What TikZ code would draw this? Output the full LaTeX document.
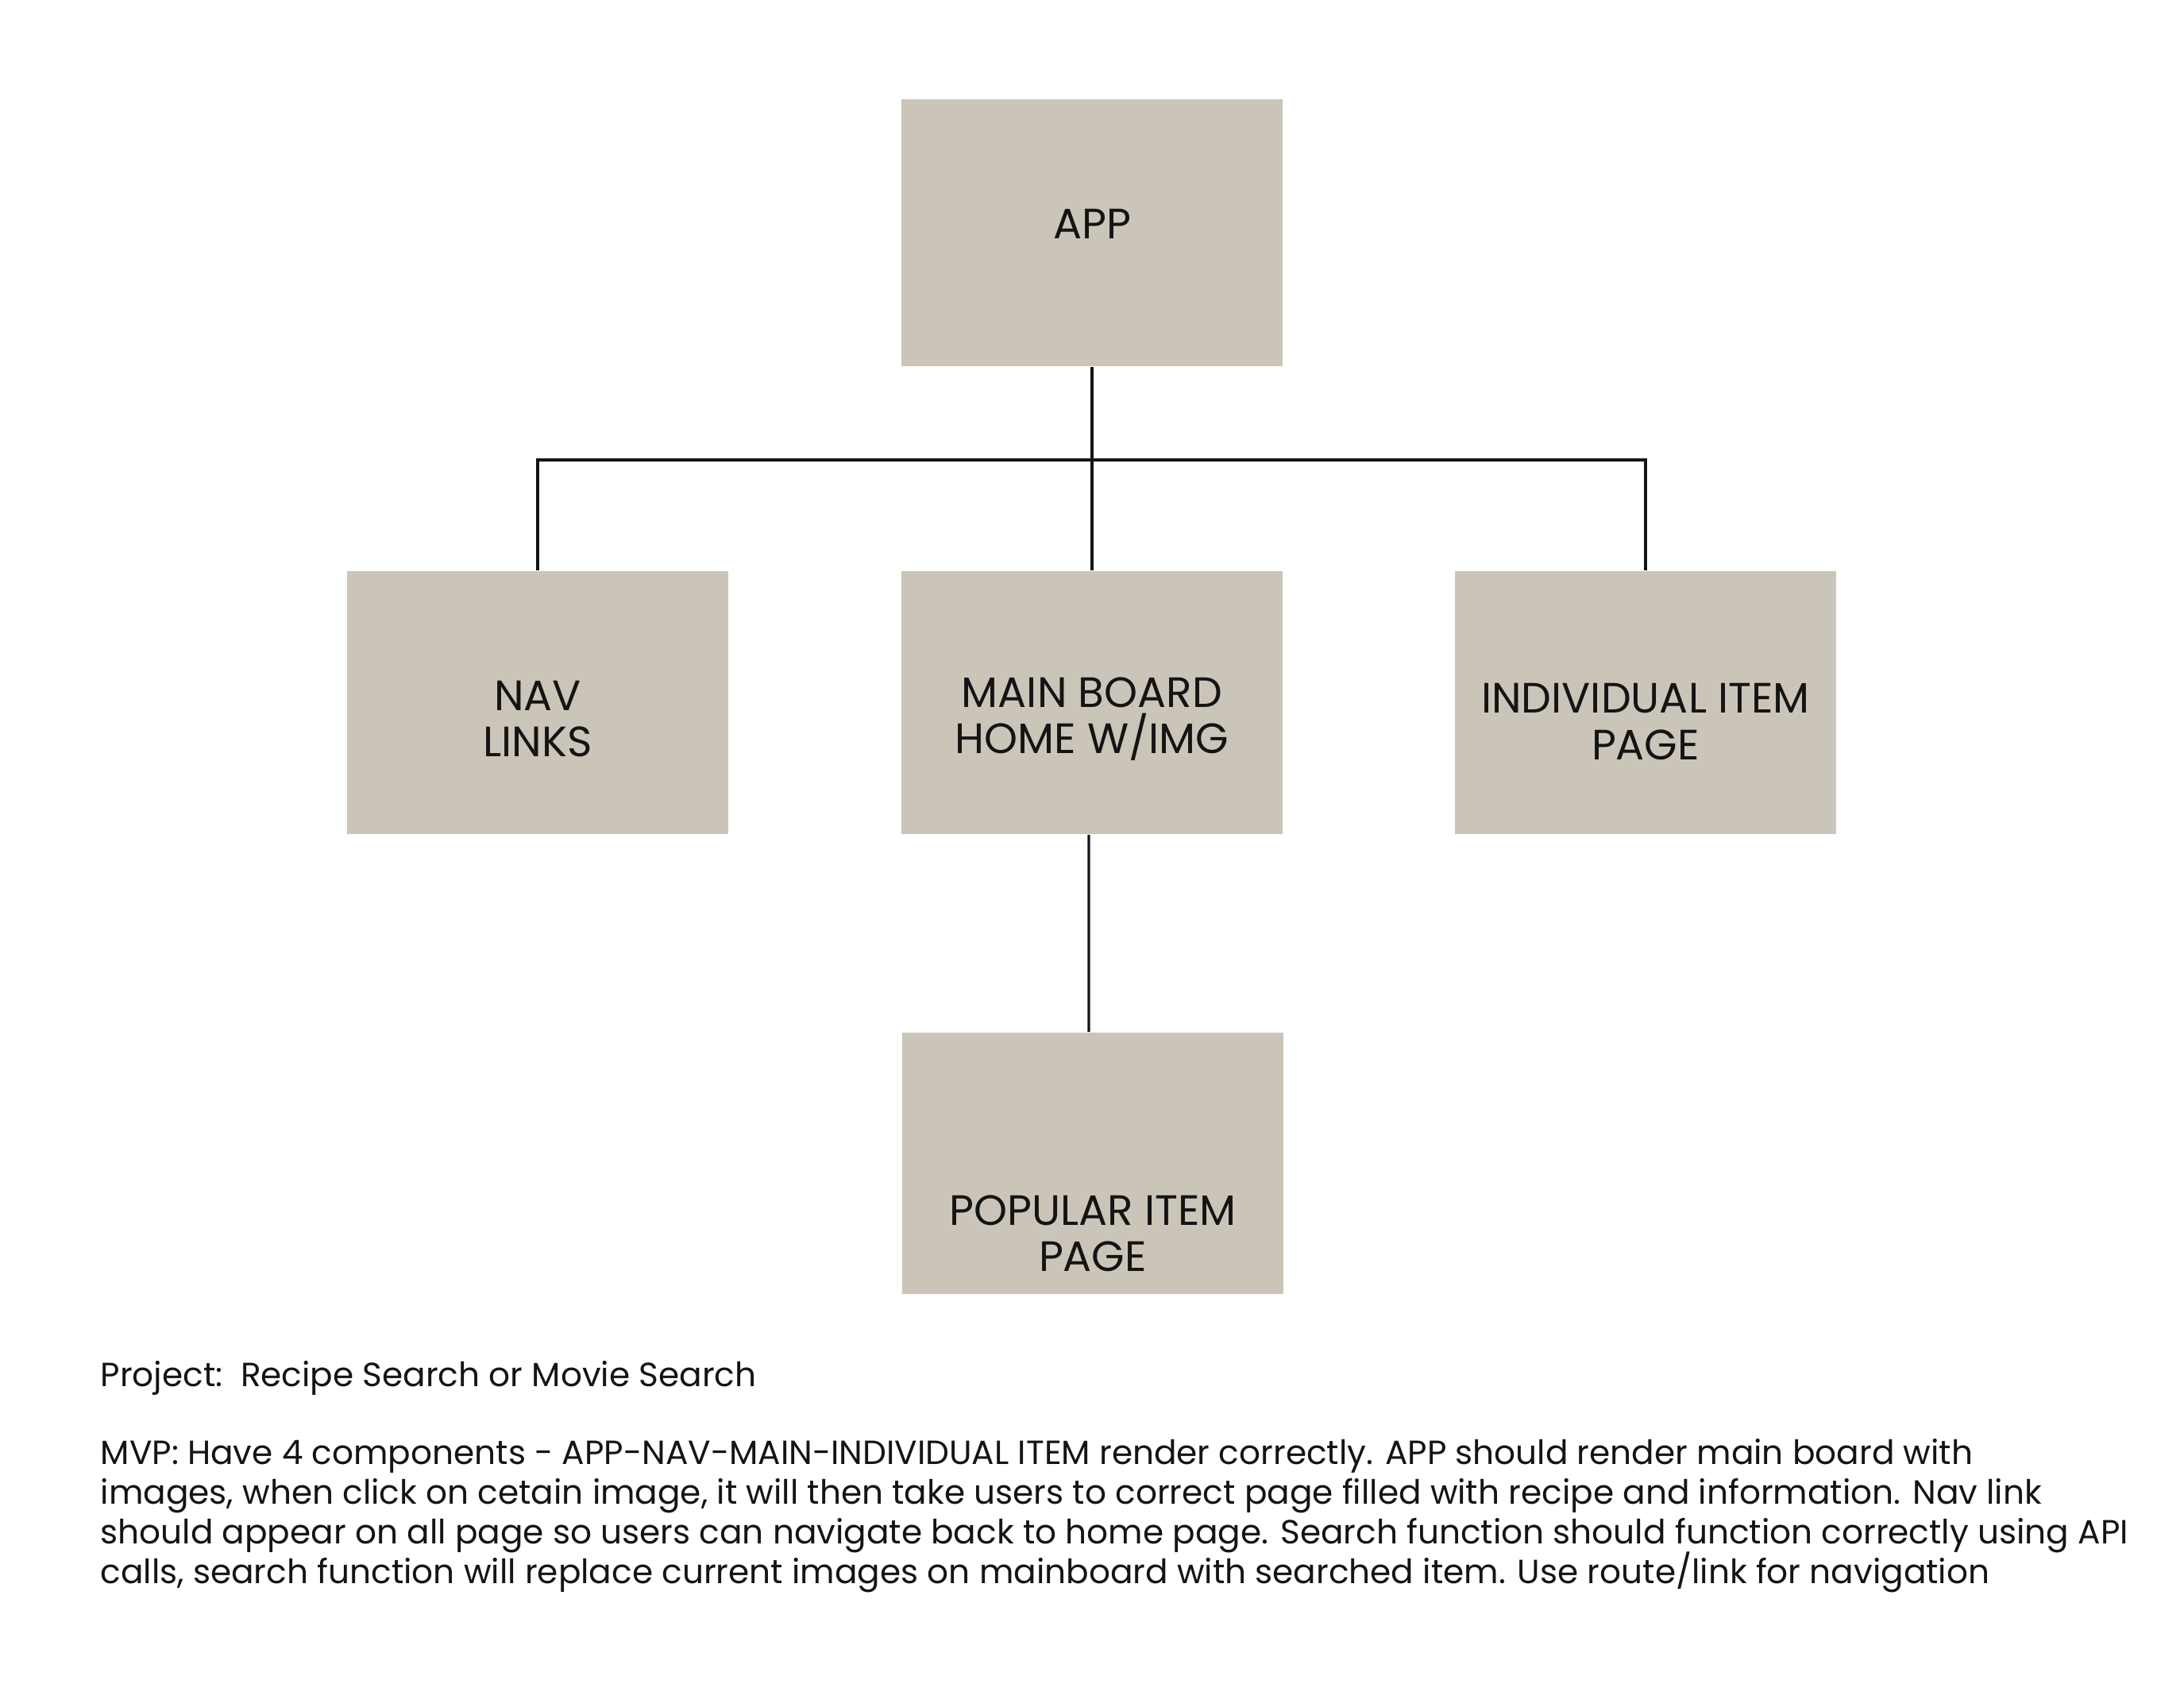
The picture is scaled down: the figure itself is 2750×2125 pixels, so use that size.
\documentclass[tikz,border=0pt]{standalone}
\usepackage{fontspec}
\setmainfont{Poppins}
\begin{document}
\lineskiplimit=-20pt
\begin{tikzpicture}[x=0.01cm,y=-0.01cm,
  box/.style={draw=none,fill=boxfill,minimum width=4.8cm,minimum height=3.31cm,inner sep=0pt},
  lbl/.style={font=\fontsize{15.2}{16.5}\selectfont,align=center,text=ink,inner sep=0pt},
  wire/.style={draw=ink,line width=0.033cm},
  body/.style={font=\fontsize{12.0}{14.2}\selectfont,align=left,text=ink,inner sep=0pt,anchor=base west}]
\definecolor{boxfill}{RGB}{203,197,185}
\definecolor{ink}{RGB}{20,20,20}
\fill[white] (0,0) rectangle (2750,2125);
\useasboundingbox (0,0) rectangle (2750,2125);

% component boxes
\node[box,minimum height=3.36cm,label={[lbl,yshift=0.11cm]center:APP}] (app) at (1375,293) {};
\node[box,label={[lbl,yshift=-0.21cm]center:{NAV\\LINKS}}] (nav) at (677,884.5) {};
\node[box,label={[lbl,yshift=-0.21cm]center:{MAIN BOARD\\HOME W/IMG}}] (main) at (1375,884.5) {};
\node[box,label={[lbl,yshift=-0.24cm]center:{INDIVIDUAL ITEM\\PAGE}}] (ind) at (2072,884.5) {};
\node[box,minimum height=3.29cm,label={[lbl,yshift=-0.88cm]center:{POPULAR ITEM\\PAGE}}] (pop) at (1376,1464.5) {};

% tree connectors
\coordinate (bus) at (1375,579);
\draw[wire] (app.south) -- (bus);
\draw[wire] (nav.north) |- (bus) -| (ind.north);
\draw[wire] (bus) -- (main.north);
\draw[wire] ([xshift=-0.04cm]main.south) -- ([xshift=-0.05cm]pop.north);

% notes
\node[body] (proj) at (126,1745) {Project:\ \ Recipe Search or Movie Search};
\node[body] (mvp) at (126,1993) {MVP: Have 4 components - APP-NAV-MAIN-INDIVIDUAL ITEM render correctly. APP should render main board with\\
images, when click on cetain image, it will then take users to correct page filled with recipe and information. Nav link\\
should appear on all page so users can navigate back to home page. Search function should function correctly using API\\
calls, search function will replace current images on mainboard with searched item. Use route/link for navigation};
\end{tikzpicture}
\end{document}
